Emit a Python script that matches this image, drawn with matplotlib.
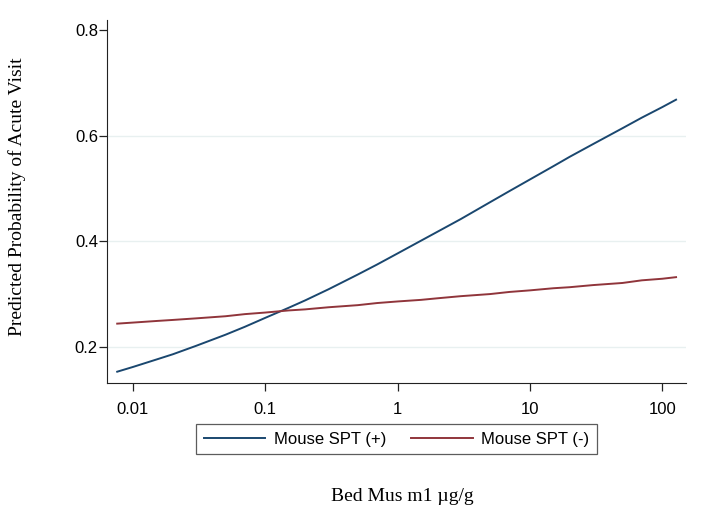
import matplotlib
matplotlib.use("Agg")
import matplotlib.pyplot as plt
from matplotlib.ticker import FixedLocator, NullLocator

# Values
bed_mus = [0.0076, 0.01, 0.015, 0.02, 0.03, 0.05, 0.07, 0.1, 0.15, 0.2, 0.3, 0.5, 0.7,
           1, 1.5, 2, 3, 5, 7, 10, 15, 20, 30, 50, 70, 100, 127]
spt_pos = [0.153, 0.162, 0.176, 0.186, 0.202, 0.223, 0.238, 0.255, 0.274, 0.288, 0.309,
           0.337, 0.356, 0.377, 0.401, 0.418, 0.442, 0.474, 0.495, 0.517, 0.542, 0.560,
           0.584, 0.614, 0.634, 0.654, 0.668]
spt_neg = [0.244, 0.246, 0.249, 0.251, 0.254, 0.258, 0.262, 0.265, 0.269, 0.271, 0.275,
           0.279, 0.283, 0.286, 0.289, 0.292, 0.296, 0.300, 0.304, 0.307, 0.311, 0.313,
           0.317, 0.321, 0.326, 0.329, 0.332]

x_ticks = [0.01, 0.1, 1, 10, 100]
x_tick_labels = ["0.01", "0.1", "1", "10", "100"]
y_ticks = [0.2, 0.4, 0.6, 0.8]
y_tick_labels = ["0.2", "0.4", "0.6", "0.8"]
grid_levels = [0.2, 0.4, 0.6]

BLUE = "#1a476f"
RED = "#90353b"
GRID = "#e8f0f0"

fig = plt.figure(figsize=(7.07, 5.15), dpi=100)
ax = fig.add_axes([0.1513, 0.2563, 0.819, 0.705])

for g in grid_levels:
    ax.axhline(g, color=GRID, linewidth=1.0, zorder=0)

ax.plot(bed_mus, spt_pos, color=BLUE, linewidth=1.4, label="Mouse SPT (+)")
ax.plot(bed_mus, spt_neg, color=RED, linewidth=1.4, label="Mouse SPT (-)")

ax.set_xscale("log")
ax.set_xlim(0.00636, 151)
ax.set_ylim(0.1316, 0.819)
ax.xaxis.set_major_locator(FixedLocator(x_ticks))
ax.xaxis.set_minor_locator(NullLocator())
ax.set_xticklabels(x_tick_labels)
ax.set_yticks(y_ticks)
ax.set_yticklabels(y_tick_labels)

ax.spines["top"].set_visible(False)
ax.spines["right"].set_visible(False)
ax.spines["left"].set_color("#222222")
ax.spines["bottom"].set_color("#222222")
ax.tick_params(axis="both", direction="out", length=6, width=0.9, colors="#222222",
               labelcolor="black", labelsize=12)
ax.tick_params(axis="y", pad=0.5)
ax.tick_params(axis="x", pad=8)
for lab in ax.get_xticklabels() + ax.get_yticklabels():
    lab.set_family("Liberation Sans")

ax.set_ylabel("Predicted Probability of Acute Visit", family="Liberation Serif", fontsize=14)
ax.yaxis.set_label_coords(-0.14, 0.512)
ax.set_xlabel("Bed Mus m1 \u00b5g/g", family="Liberation Serif", fontsize=14)
ax.xaxis.set_label_coords(0.51, -0.29)

leg = ax.legend(loc="upper center", bbox_to_anchor=(0.5, -0.09), ncol=2,
                frameon=True, fancybox=False, edgecolor="#333333",
                prop={"family": "Liberation Sans", "size": 12},
                handlelength=3.7, columnspacing=1.5, borderpad=0.45,
                handletextpad=0.5)
leg.get_frame().set_linewidth(0.9)

fig.savefig("out.png", dpi=100, facecolor="white")
